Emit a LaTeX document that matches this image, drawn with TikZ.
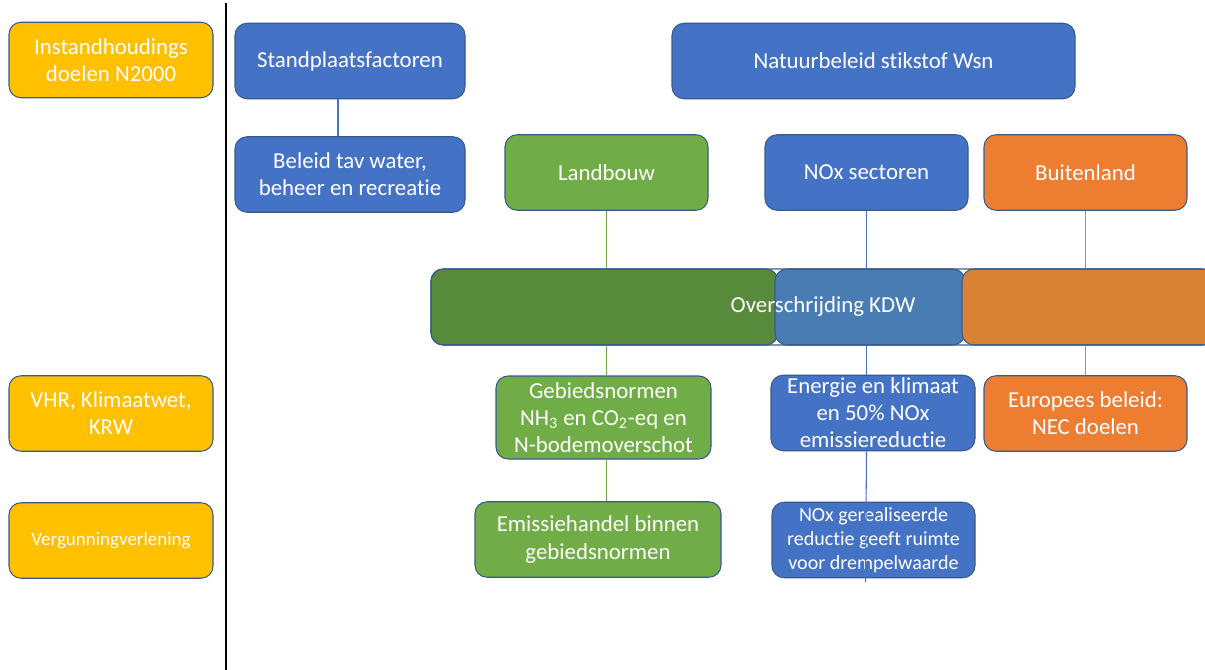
\documentclass[tikz,border=0pt]{standalone}
\usepackage{fontspec}
\setmainfont{Carlito}[Ligatures=NoCommon]
\usepackage{tikz}

\definecolor{goalfill}{HTML}{FFC000}
\definecolor{bluefill}{HTML}{4472C4}
\definecolor{greenfill}{HTML}{70AD47}
\definecolor{orangefill}{HTML}{ED7D31}
\definecolor{bargreen}{HTML}{578A3A}
\definecolor{barblue}{HTML}{4A7CB4}
\definecolor{barorange}{HTML}{D98233}
\definecolor{boxline}{HTML}{3A5A8C}

\begin{document}
\begin{tikzpicture}[
		every node/.style={rectangle, rounded corners=0.24cm, draw=boxline, line width=0.6pt,
			text=white, align=center, inner sep=1pt, font=\fontsize{13}{15.4}\selectfont},
		goal/.style={fill=goalfill, minimum width=4.08cm, minimum height=1.51cm},
		nature/.style={fill=bluefill, minimum height=1.51cm},
		farm/.style={fill=greenfill, minimum height=1.51cm},
		abroad/.style={fill=orangefill, minimum height=1.51cm},
		part/.style={minimum height=1.52cm},
		green_link/.style={draw=greenfill, line width=0.6pt},
		blue_link/.style={draw=bluefill, line width=0.6pt},
		orange_link/.style={draw=orangefill, line width=0.6pt}
	]
  \useasboundingbox (0cm, 0cm) rectangle (24.1cm, -13.4cm);

  \node (n2000) [goal] at (2.22cm, -1.20cm) {Instandhoudings\\doelen N2000};
  \node (vhr) [goal] at (2.22cm, -8.27cm) {VHR, Klimaatwet,\\KRW};
  \node (permit) [goal, font=\fontsize{10.8}{13}\selectfont] at (2.22cm, -10.81cm) {Vergunningverlening};

  \coordinate (div_top) at (4.52cm, -0.06cm);
  \coordinate (div_bot) at (4.52cm, -13.4cm);
  \draw [black, line width=1.1pt] (div_top) -- (div_bot);

  \node (site) [nature, minimum width=4.60cm] at (7.00cm, -1.22cm) {Standplaatsfactoren};
  \node (water) [nature, minimum width=4.60cm] at (7.00cm, -3.49cm) {Beleid tav water,\\beheer en recreatie};
  \node (policy) [nature, minimum width=8.06cm] at (17.47cm, -1.22cm) {Natuurbeleid stikstof Wsn};

  \node (farming) [farm, minimum width=4.06cm] at (12.13cm, -3.45cm) {Landbouw};
  \node (nox) [nature, minimum width=4.06cm] at (17.33cm, -3.45cm) {NOx sectoren};
  \node (foreign) [abroad, minimum width=4.06cm] at (21.71cm, -3.45cm) {Buitenland};

  \node (kdw_green) [part, fill=bargreen, minimum width=6.94cm] at (12.09cm, -6.14cm) {};
  \node (kdw_blue) [part, fill=barblue, minimum width=3.80cm] at (17.40cm, -6.14cm) {};
  \node (kdw_orange) [part, fill=barorange, minimum width=5.06cm] at (21.77cm, -6.14cm) {};
  \node (kdw) [part, minimum width=15.68cm] at (16.46cm, -6.14cm) {Overschrijding KDW};

  \node (area) [farm, minimum width=4.30cm, minimum height=1.66cm] at (12.07cm, -8.35cm)
    {Gebiedsnormen\\NH\textsubscript{3} en CO\textsubscript{2}-eq en\\N-bodemoverschot};
  \node (energy) [nature, minimum width=4.08cm] at (17.46cm, -8.26cm)
    {Energie en klimaat\\en 50\% NOx\\emissiereductie};
  \node (nec) [abroad, minimum width=4.06cm] at (21.71cm, -8.27cm) {Europees beleid:\\NEC doelen};

  \node (trade) [farm, minimum width=4.92cm] at (11.96cm, -10.79cm) {Emissiehandel binnen\\gebiedsnormen};
  \node (gain) [nature, minimum width=4.06cm, font=\fontsize{11.4}{13.7}\selectfont] at (17.47cm, -10.80cm)
    {NOx gerealiseerde\\reductie geeft ruimte\\voor drempelwaarde};
  \coordinate (gain_end) at (17.31cm, -11.64cm);

  \draw [blue_link] ([xshift=-0.24cm]site.south) -- ([xshift=-0.24cm]water.north);

  \draw [green_link] (farming.south) -- (farming.south |- kdw.north);
  \draw [green_link] (farming.south |- kdw.south) -- (farming.south |- area.north);
  \draw [green_link] (farming.south |- area.south) -- (farming.south |- trade.north);

  \draw [blue_link] (nox.south) -- (nox.south |- kdw.north);
  \draw [blue_link] (nox.south |- kdw.south) -- (nox.south |- energy.north);
  \draw [blue_link] (nox.south |- energy.south) -- (gain_end);

  \draw [orange_link] (foreign.south) -- (foreign.south |- kdw.north);
  \draw [orange_link] (foreign.south |- kdw.south) -- (foreign.south |- nec.north);
\end{tikzpicture}
\end{document}
